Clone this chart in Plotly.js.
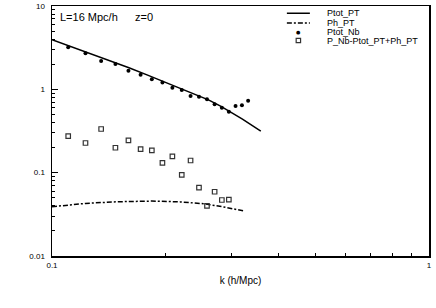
<!DOCTYPE html>
<html><head><meta charset="utf-8">
<script src="https://cdn.plot.ly/plotly-3.0.1.min.js"></script>
<style>html,body{margin:0;padding:0;background:#fff}#c{width:436px;height:308px}</style>
</head><body><div id="c"></div>
<script>
// ---- data ----
const kNb = [0.1104,0.1227,0.1350,0.1473,0.1595,0.1718,0.1840,0.1963,0.2086,0.2209,0.2331,0.2454,0.2577,0.2700,0.2822,0.2945,0.3068,0.3190,0.3313];
const ptotNb = [3.19,2.71,2.19,2.01,1.67,1.50,1.32,1.21,1.045,0.98,0.83,0.815,0.76,0.66,0.60,0.54,0.63,0.643,0.73];
const kDiff = [0.1104,0.1227,0.1350,0.1473,0.1595,0.1718,0.1840,0.1963,0.2086,0.2209,0.2331,0.2454,0.2577,0.2700,0.2822,0.2945];
const pDiff = [0.275,0.227,0.334,0.199,0.244,0.192,0.185,0.131,0.157,0.094,0.140,0.066,0.040,0.059,0.047,0.0475];
const kPT = [0.10,0.12,0.14,0.16,0.18,0.20,0.22,0.24,0.26,0.28,0.30,0.32,0.34,0.358];
const ptotPT = [3.94,2.93,2.29,1.815,1.47,1.217,1.027,0.878,0.748,0.628,0.525,0.438,0.368,0.316];
const kPh = [0.10,0.1226,0.150,0.184,0.219,0.252,0.285,0.325];
const phPT = [0.0390,0.0428,0.0448,0.0456,0.0446,0.0424,0.0388,0.0345];
const names = ["Ptot_PT","Ph_PT","Ptot_Nb","P_Nb-Ptot_PT+Ph_PT"];
const xTickVals = [0.1,1], xTickText = ["0.1","1"];
const yTickVals = [0.01,0.1,1,10], yTickText = ["0.01","0.1","1","10"];
const label1 = "L=16 Mpc/h", label2 = "z=0";
const xTitle = "k (h/Mpc)";

// ---- styles ----
const FONT = "Liberation Sans, Arial, Helvetica, sans-serif";
const DASHDOT = "5px,2px,2px,2px";
const traces = [
  {x:kPT, y:ptotPT, mode:"lines", line:{color:"#000", width:1.5}, name:names[0]},
  {x:kPh, y:phPT, mode:"lines", line:{color:"#000", width:1.5, dash:DASHDOT}, name:names[1]},
  {x:kNb, y:ptotNb, mode:"markers", marker:{symbol:"circle", size:4, color:"#000"}, name:names[2]},
  {x:kDiff, y:pDiff, mode:"markers", marker:{symbol:"square-open", size:4.5, color:"#333", line:{width:1.2, color:"#333"}}, name:names[3]}
];

function minorVals(lo, hi){ const v=[]; for(let e=lo;e<hi;e++){ for(let m=2;m<=9;m++) v.push(m*Math.pow(10,e)); } return v; }

// custom compact legend
const legRows = [0.971, 0.932, 0.895, 0.862];
const sx0 = 0.623, sx1 = 0.684, sxm = 0.6535, tx = 0.724;
const hw = 2.2/377, hh = 2.2/250;
const shapes = [
  {type:"line", xref:"paper", yref:"paper", x0:sx0, x1:sx1, y0:legRows[0], y1:legRows[0], line:{color:"#000", width:1.5}},
  {type:"line", xref:"paper", yref:"paper", x0:sx0, x1:sx1, y0:legRows[1], y1:legRows[1], line:{color:"#000", width:1.5, dash:DASHDOT}},
  {type:"rect", xref:"paper", yref:"paper", x0:sxm-hw, x1:sxm+hw, y0:legRows[3]-hh, y1:legRows[3]+hh, line:{color:"#333", width:1.2}, fillcolor:"rgba(0,0,0,0)"}
];
const annotations = names.map((n,i)=>({xref:"paper", yref:"paper", x:tx, y:legRows[i], text:n, showarrow:false, xanchor:"left", yanchor:"middle", font:{family:FONT, size:9, color:"#000"}}));
annotations.push({xref:"paper", yref:"paper", x:sxm, y:legRows[2], text:"\u25CF", showarrow:false, xanchor:"center", yanchor:"middle", font:{family:"DejaVu Sans", size:5, color:"#000"}});
annotations.push({xref:"paper", yref:"paper", x:0.016, y:0.957, text:label1, showarrow:false, xanchor:"left", yanchor:"middle", font:{family:FONT, size:11, color:"#000"}});
annotations.push({xref:"paper", yref:"paper", x:0.215, y:0.957, text:label2, showarrow:false, xanchor:"left", yanchor:"middle", font:{family:FONT, size:11, color:"#000"}});

const layout = {
  width:436, height:308,
  margin:{l:52, r:7, t:6, b:52},
  paper_bgcolor:"#fff", plot_bgcolor:"#fff",
  showlegend:false,
  font:{family:FONT, size:8, color:"#000"},
  xaxis:{type:"log", range:[-1,0], showgrid:false, zeroline:false, showline:true, linecolor:"#000", linewidth:1.5, mirror:true,
    ticks:"inside", ticklen:6, tickcolor:"#000", tickvals:xTickVals, ticktext:xTickText, ticklabelstandoff:1,
    minor:{ticks:"inside", ticklen:3, tickcolor:"#000", tickvals:minorVals(-1,0), showgrid:false},
    title:{text:xTitle, font:{family:FONT, size:10, color:"#000"}, standoff:8}},
  yaxis:{type:"log", range:[-2,1], showgrid:false, zeroline:false, showline:true, linecolor:"#000", linewidth:1.5, mirror:true,
    ticks:"inside", ticklen:6, tickcolor:"#000", tickvals:yTickVals, ticktext:yTickText, ticklabelstandoff:4,
    minor:{ticks:"inside", ticklen:3, tickcolor:"#000", tickvals:minorVals(-2,1), showgrid:false}},
  shapes:shapes, annotations:annotations
};
Plotly.newPlot("c", traces, layout, {displayModeBar:false, staticPlot:true});
</script></body></html>
